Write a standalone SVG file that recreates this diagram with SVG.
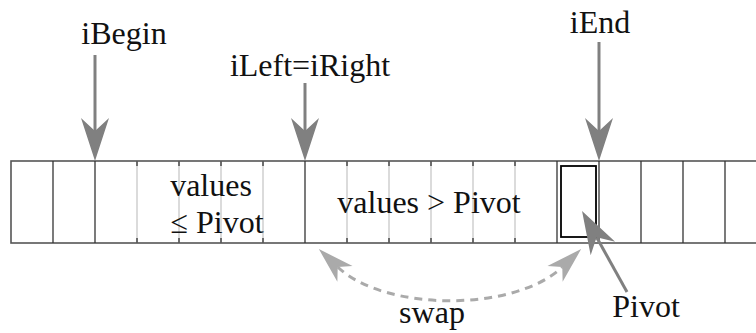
<svg xmlns="http://www.w3.org/2000/svg" width="756" height="333" viewBox="0 0 756 333">
<defs>
<marker id="headDark" markerUnits="userSpaceOnUse" viewBox="-14 -15 46 30" markerWidth="46" markerHeight="30" refX="0" refY="0" orient="auto">
<path d="M30,0 L-13,-14 L0,0 L-13,14 Z" fill="#808080"/>
</marker>
<marker id="headLight" markerUnits="userSpaceOnUse" viewBox="-12 -13 40 26" markerWidth="40" markerHeight="26" refX="0" refY="0" orient="auto-start-reverse">
<path d="M26,0 L-10,-11 L0,0 L-10,11 Z" fill="#aaa"/>
</marker>
</defs>

<g id="array">
<rect x="11" y="161" width="760" height="82" fill="none" stroke="#555" stroke-width="1.6"/>
<g stroke="#c8c8c8" stroke-width="1.3">
<line x1="137" y1="161" x2="137" y2="243"/>
<line x1="179" y1="161" x2="179" y2="243"/>
<line x1="221" y1="161" x2="221" y2="243"/>
<line x1="263" y1="161" x2="263" y2="243"/>
<line x1="347" y1="161" x2="347" y2="243"/>
<line x1="389" y1="161" x2="389" y2="243"/>
<line x1="431" y1="161" x2="431" y2="243"/>
<line x1="473" y1="161" x2="473" y2="243"/>
<line x1="515" y1="161" x2="515" y2="243"/>
</g>
<g stroke="#333" stroke-width="1.3">
<line x1="53" y1="161" x2="53" y2="243"/>
<line x1="95" y1="161" x2="95" y2="243"/>
<line x1="305" y1="161" x2="305" y2="243"/>
<line x1="557" y1="161" x2="557" y2="243"/>
<line x1="599" y1="161" x2="599" y2="243"/>
<line x1="641" y1="161" x2="641" y2="243"/>
<line x1="683" y1="161" x2="683" y2="243"/>
<line x1="725" y1="161" x2="725" y2="243"/>
<path d="M137,161v5M179,161v5M221,161v5M263,161v5M347,161v5M389,161v5M431,161v5M473,161v5M515,161v5M137,243v-5M179,243v-5M221,243v-5M263,243v-5M347,243v-5M389,243v-5M431,243v-5M473,243v-5M515,243v-5"/>
</g>
</g>

<g id="pivot-cell">
<rect x="561" y="166" width="35" height="71" fill="none" stroke="#000" stroke-width="1.8"/>
</g>

<g font-family="Liberation Serif" font-size="32" fill="#111" text-anchor="middle">
<g id="region-low">
<text x="211" y="196">values</text>
<text x="217" y="233">≤ Pivot</text>
</g>
<g id="region-high"><text x="429" y="213">values &gt; Pivot</text></g>
<g id="label-ibegin"><text x="124" y="44">iBegin</text></g>
<g id="label-ileft"><text x="310" y="76">iLeft=iRight</text></g>
<g id="label-iend"><text x="600" y="33">iEnd</text></g>
<g id="label-pivot"><text x="646" y="317">Pivot</text></g>
<g id="label-swap"><text x="432" y="323">swap</text></g>
</g>

<g id="connectors" fill="none">
<g stroke="#808080" stroke-width="3" marker-end="url(#headDark)">
<line x1="95" y1="55" x2="95" y2="131"/>
<line x1="305" y1="83" x2="305" y2="131"/>
<line x1="599" y1="42" x2="599" y2="131"/>
<line x1="627" y1="292" x2="596.6" y2="237.2"/>
</g>
<path d="M337.7,267 C385,312 515,312 562.3,267" stroke="#aaa" stroke-width="3" stroke-dasharray="8 6" marker-start="url(#headLight)" marker-end="url(#headLight)"/>
</g>
</svg>
